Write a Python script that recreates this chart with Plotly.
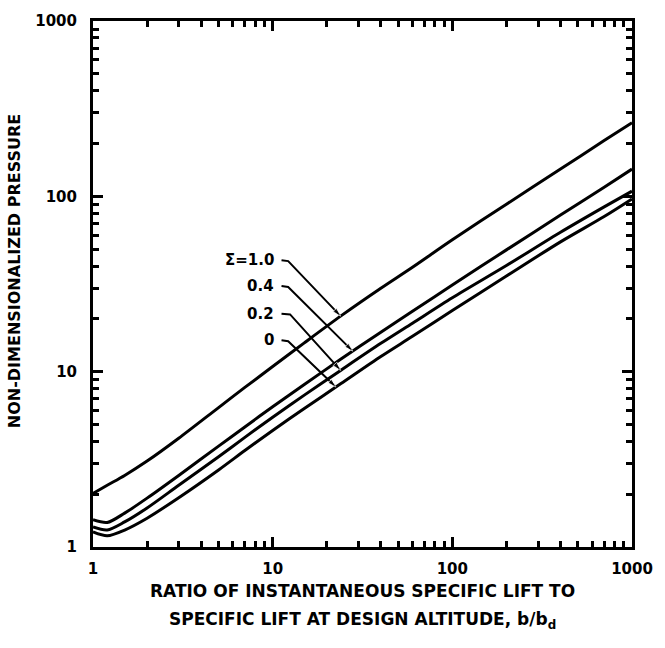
import numpy as np
import plotly.graph_objects as go

# ---- data ----
x_pts = [1, 1.2, 1.5, 2, 3, 5, 7, 10, 15, 24, 40, 60, 100, 200, 400, 700, 1000]
p_sigma_1_0 = [2.02, 2.25, 2.56, 3.09, 4.17, 6.24, 8.13, 10.7, 14.6, 20.8, 29.9, 39.4, 56.5, 90.2, 143, 208, 263]
p_sigma_0_4 = [1.43, 1.38, 1.56, 1.90, 2.56, 3.76, 4.84, 6.31, 8.45, 11.8, 16.8, 22.1, 31.2, 49.5, 78.2, 112.7, 143]
p_sigma_0_2 = [1.30, 1.25, 1.39, 1.67, 2.25, 3.27, 4.22, 5.50, 7.35, 10.2, 14.5, 18.9, 26.4, 40.3, 62.4, 87.1, 107]
p_sigma_0_0 = [1.22, 1.16, 1.25, 1.46, 1.91, 2.75, 3.55, 4.62, 6.17, 8.55, 12.2, 15.9, 22.3, 35.1, 55.0, 76.7, 96.6]

series = [p_sigma_1_0, p_sigma_0_4, p_sigma_0_2, p_sigma_0_0]
sigma_labels = ["\u03a3=1.0", "0.4", "0.2", "0"]

# label anchor (right end of text) and leader lines: start, elbow, tip x
label_x = 10.5
label_y = [43.2, 30.8, 21.2, 15.1]
leader_x = [[11.2, 12.2, 23.9], [11.2, 12.2, 27.9], [11.2, 12.5, 23.9], [11.2, 12.2, 22.5]]
leader_y0 = [[43.2, 42.7], [30.8, 30.4], [21.4, 21.2], [15.1, 14.9]]

decade_vals = [1, 10, 100, 1000]
decade_text = ["1", "10", "100", "1000"]
minor_vals = [m * d for d in (1, 10, 100) for m in range(2, 10)]

x_title_1 = "RATIO OF INSTANTANEOUS SPECIFIC LIFT TO"
x_title_2 = "SPECIFIC LIFT AT DESIGN ALTITUDE, b/b<sub>d</sub>"
y_title = "NON-DIMENSIONALIZED PRESSURE"

FONT = "DejaVu Sans"

fig = go.Figure()

for ys in series:
    fig.add_trace(go.Scatter(
        x=x_pts, y=ys, mode="lines",
        line=dict(color="black", width=3, shape="spline", smoothing=0.8),
        hoverinfo="skip", showlegend=False))

lx_log = np.log10(x_pts)
for k, ys in enumerate(series):
    tip_x = leader_x[k][2]
    tip_y = 10 ** np.interp(np.log10(tip_x), lx_log, np.log10(ys))
    xs = leader_x[k]
    yv = leader_y0[k] + [tip_y]
    fig.add_trace(go.Scatter(
        x=xs, y=yv, mode="lines+markers",
        line=dict(color="black", width=2),
        marker=dict(symbol="arrow", angleref="previous", size=[0, 0, 9], color="black"),
        hoverinfo="skip", showlegend=False))
    fig.add_annotation(
        x=np.log10(label_x), y=np.log10(label_y[k]), xref="x", yref="y",
        text=sigma_labels[k], showarrow=False, xanchor="right", yanchor="middle",
        font=dict(family=FONT, size=15, color="black", weight="bold"))

# invisible trace to bind the overlay (minor-tick) axes
fig.add_trace(go.Scatter(x=[1, 1000], y=[1, 1000], xaxis="x2", yaxis="y2",
                         mode="lines", line=dict(width=0), opacity=0,
                         hoverinfo="skip", showlegend=False))

frame = dict(showgrid=False, zeroline=False, showline=True, linewidth=3,
             linecolor="black", type="log", range=[0, 3])

fig.update_layout(
    width=665, height=648,
    margin=dict(l=93, r=28, t=15, b=101),
    paper_bgcolor="white", plot_bgcolor="white",
    xaxis=dict(**frame, tickvals=decade_vals, ticktext=decade_text,
               ticks="inside", ticklen=10, tickwidth=2.5, tickcolor="black", mirror="allticks",
               ticklabelstandoff=6,
               tickfont=dict(family=FONT, size=15, color="black", weight="bold")),
    yaxis=dict(**frame, tickvals=decade_vals, ticktext=decade_text,
               ticks="inside", ticklen=10, tickwidth=2.5, tickcolor="black", mirror="allticks",
               ticklabelstandoff=10,
               tickfont=dict(family=FONT, size=15, color="black", weight="bold")),
    xaxis2=dict(**frame, overlaying="x", anchor="y2", side="bottom",
                tickmode="array", tickvals=minor_vals, showticklabels=False,
                ticks="inside", ticklen=6, tickwidth=2.5, tickcolor="black", mirror="allticks"),
    yaxis2=dict(**frame, overlaying="y", anchor="x2", side="left",
                tickmode="array", tickvals=minor_vals, showticklabels=False,
                ticks="inside", ticklen=6, tickwidth=2.5, tickcolor="black", mirror="allticks"),
)

fig.add_annotation(x=0.5, y=-0.083, xref="paper", yref="paper", text=x_title_1,
                   showarrow=False, xanchor="center", yanchor="middle",
                   font=dict(family=FONT, size=17, color="black", weight="bold"))
fig.add_annotation(x=0.5, y=-0.139, xref="paper", yref="paper", text=x_title_2,
                   showarrow=False, xanchor="center", yanchor="middle",
                   font=dict(family=FONT, size=17, color="black", weight="bold"))
fig.add_annotation(x=-0.145, y=0.524, xref="paper", yref="paper", text=y_title,
                   showarrow=False, textangle=-90, xanchor="center", yanchor="middle",
                   font=dict(family=FONT, size=16, color="black", weight="bold"))

fig.write_html("out.html")
